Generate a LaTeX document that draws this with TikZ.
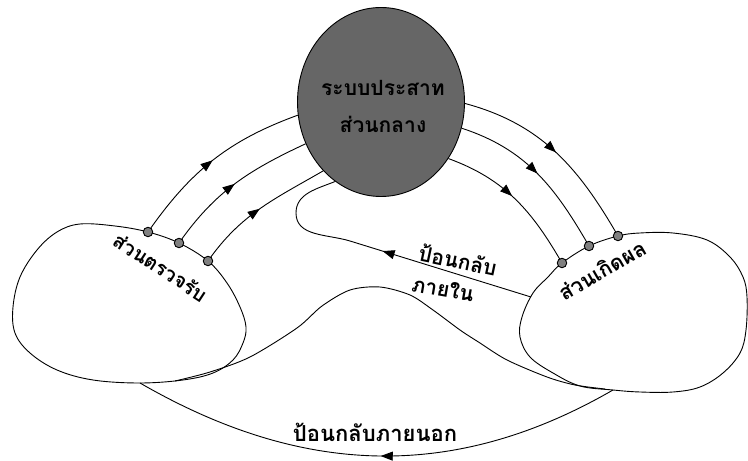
\documentclass[tikz,border=0pt]{standalone}
\usepackage{fontspec}
\newfontfamily\thaifont[Script=Thai]{Loma}
\usetikzlibrary{arrows.meta,decorations.markings,shapes.geometric}
\tikzset{
  midarrow/.style={postaction={decorate},decoration={markings,
    mark=at position #1 with {\arrow{Triangle[length=12pt,width=9pt]}}}},
  ending/.style={circle,draw,fill=black!50,line width=0.9pt,inner sep=0pt,minimum size=9.5pt},
  thai/.style={font=\thaifont\bfseries\fontsize{#1}{37}\selectfont},
  thai/.default=21,
}
\begin{document}
\begin{tikzpicture}[x=1pt,y=1pt,line width=0.9pt]
\useasboundingbox (0,0) rectangle (748,461);
% sensor and effector
\draw plot[smooth cycle,tension=0.6] coordinates {(80,237) (115,235) (148,229) (179,218) (208,200) (227,178) (240,154) (246,134) (243,118) (233,101) (213,88) (183,81) (140,78) (93,81) (57,91) (30,108) (15,128) (13,154) (20,184) (37,211) (57,229)};
\draw plot[smooth cycle,tension=0.6] coordinates {(640,228) (673,228) (707,221) (730,204) (743,184) (747,164) (746,131) (740,108) (723,88) (700,74) (673,69) (640,69) (613,71) (580,75) (553,88) (530,104) (520,124) (522,144) (533,168) (548,184) (562,198) (589,215) (618,225)};
% hill between them
\draw plot[smooth,tension=0.5] coordinates {(175,80) (210,89) (250,104) (297,133) (322,155) (350,171) (380,174) (410,166) (433,151) (460,131) (480,118) (507,101) (547,84) (575,76) (605,72)};
\node[thai=20,rotate=-33] (senslabel) at (161,194) {ส่วนตรวจรับ};
\node[thai=21,rotate=30] (efflabel) at (602,191) {ส่วนเกิดผล};
% central nervous system
\node[ellipse,draw,fill=black!60,minimum width=167pt,minimum height=189pt] (cns) at (381,359) {};
\node[thai=21,align=center] (cnslabel) at (383,355) {ระบบประสาท\\ส่วนกลาง};
\coordinate (s1) at (148,229);
\coordinate (s2) at (179,218);
\coordinate (s3) at (208,200);
\coordinate (e1) at (618,225);
\coordinate (e2) at (589,215);
\coordinate (e3) at (562,198);
\draw[midarrow=0.5] (s1) to[out=55,in=200] (cns.189);
\draw[midarrow=0.5] (s2) to[out=55,in=205] (cns.209);
\draw[midarrow=0.5] (s3) to[out=55,in=210] (cns.230);
\draw[midarrow=0.5] (cns.359) to[out=-15,in=120] (e1);
\draw[midarrow=0.5] (cns.342) to[out=-18,in=120] (e2);
\draw[midarrow=0.47] (cns.320) to[out=-20,in=120] (e3);
\foreach \p in {s1,s2,s3,e1,e2,e3}
  \node[ending] (\p dot) at (\p) {};
% internal feedback
\coordinate (fb0) at (531,164);
\coordinate (fb1) at (350,220);
\coordinate (fb2) at (296,248);
\draw[midarrow=0.82] (fb0) -- (fb1);
\draw (fb1) to[out=163,in=270] (fb2) to[out=90,in=202] (cns.240);
\node[thai=21,rotate=-12] (fblabel) at (458,201) {ป้อนกลับ};
\node[thai=21,rotate=-10] (fblabelb) at (443,172) {ภายใน};
% external feedback
\coordinate (ex0) at (613,71);
\coordinate (ex1) at (140,78);
\draw[midarrow=0.49] (ex0) to[out=210,in=-30] (ex1);
\node[thai=22] (exlabel) at (375,29) {ป้อนกลับภายนอก};
\end{tikzpicture}
\end{document}
